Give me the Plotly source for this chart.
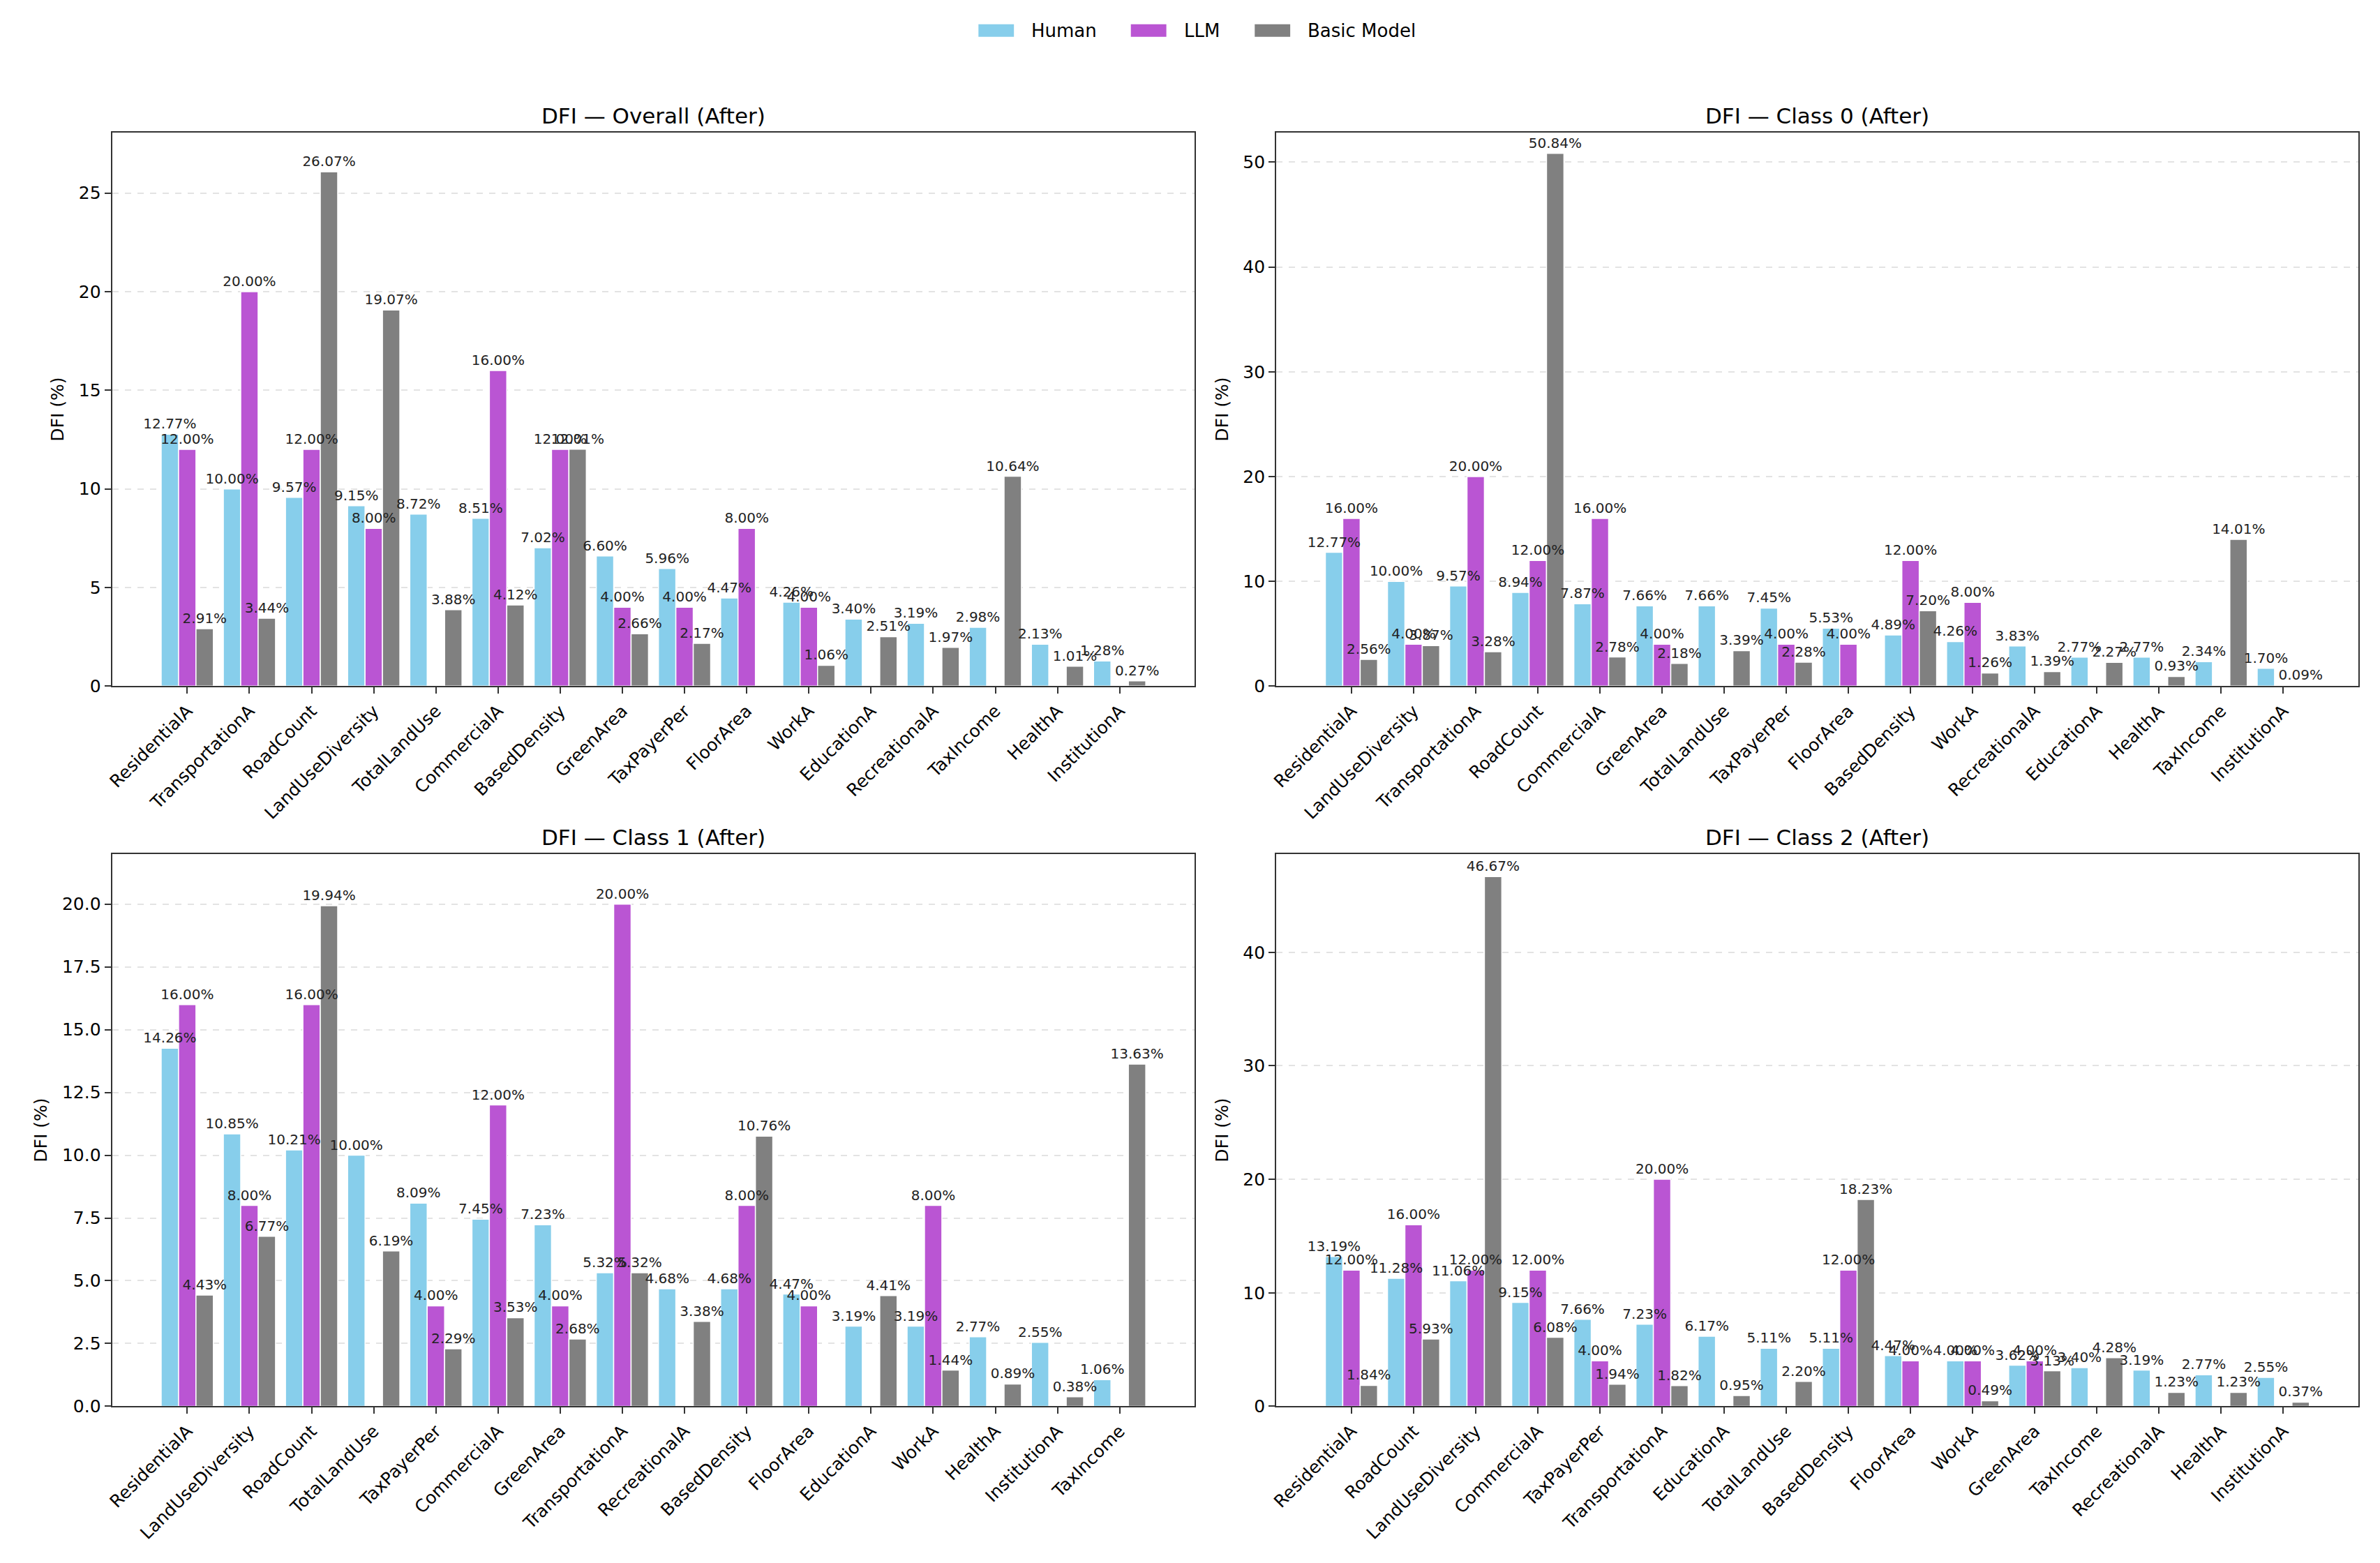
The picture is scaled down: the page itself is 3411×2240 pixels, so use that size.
import plotly.graph_objects as go

# ---------------- data ----------------
series_names = ["Human", "LLM", "Basic Model"]
series_colors = ["#87CEEB", "#BA55D3", "#808080"]

overall_cats = ["ResidentialA", "TransportationA", "RoadCount", "LandUseDiversity", "TotalLandUse",
                "CommercialA", "BasedDensity", "GreenArea", "TaxPayerPer", "FloorArea", "WorkA",
                "EducationA", "RecreationalA", "TaxIncome", "HealthA", "InstitutionA"]
overall_human = [12.77, 10.00, 9.57, 9.15, 8.72, 8.51, 7.02, 6.60, 5.96, 4.47, 4.26, 3.40, 3.19, 2.98, 2.13, 1.28]
overall_llm = [12.00, 20.00, 12.00, 8.00, 0, 16.00, 12.00, 4.00, 4.00, 8.00, 4.00, 0, 0, 0, 0, 0]
overall_basic = [2.91, 3.44, 26.07, 19.07, 3.88, 4.12, 12.01, 2.66, 2.17, 0, 1.06, 2.51, 1.97, 10.64, 1.01, 0.27]

class0_cats = ["ResidentialA", "LandUseDiversity", "TransportationA", "RoadCount", "CommercialA",
               "GreenArea", "TotalLandUse", "TaxPayerPer", "FloorArea", "BasedDensity", "WorkA",
               "RecreationalA", "EducationA", "HealthA", "TaxIncome", "InstitutionA"]
class0_human = [12.77, 10.00, 9.57, 8.94, 7.87, 7.66, 7.66, 7.45, 5.53, 4.89, 4.26, 3.83, 2.77, 2.77, 2.34, 1.70]
class0_llm = [16.00, 4.00, 20.00, 12.00, 16.00, 4.00, 0, 4.00, 4.00, 12.00, 8.00, 0, 0, 0, 0, 0]
class0_basic = [2.56, 3.87, 3.28, 50.84, 2.78, 2.18, 3.39, 2.28, 0, 7.20, 1.26, 1.39, 2.27, 0.93, 14.01, 0.09]

class1_cats = ["ResidentialA", "LandUseDiversity", "RoadCount", "TotalLandUse", "TaxPayerPer",
               "CommercialA", "GreenArea", "TransportationA", "RecreationalA", "BasedDensity",
               "FloorArea", "EducationA", "WorkA", "HealthA", "InstitutionA", "TaxIncome"]
class1_human = [14.26, 10.85, 10.21, 10.00, 8.09, 7.45, 7.23, 5.32, 4.68, 4.68, 4.47, 3.19, 3.19, 2.77, 2.55, 1.06]
class1_llm = [16.00, 8.00, 16.00, 0, 4.00, 12.00, 4.00, 20.00, 0, 8.00, 4.00, 0, 8.00, 0, 0, 0]
class1_basic = [4.43, 6.77, 19.94, 6.19, 2.29, 3.53, 2.68, 5.32, 3.38, 10.76, 0, 4.41, 1.44, 0.89, 0.38, 13.63]

class2_cats = ["ResidentialA", "RoadCount", "LandUseDiversity", "CommercialA", "TaxPayerPer",
               "TransportationA", "EducationA", "TotalLandUse", "BasedDensity", "FloorArea", "WorkA",
               "GreenArea", "TaxIncome", "RecreationalA", "HealthA", "InstitutionA"]
class2_human = [13.19, 11.28, 11.06, 9.15, 7.66, 7.23, 6.17, 5.11, 5.11, 4.47, 4.00, 3.62, 3.40, 3.19, 2.77, 2.55]
class2_llm = [12.00, 16.00, 12.00, 12.00, 4.00, 20.00, 0, 0, 12.00, 4.00, 4.00, 4.00, 0, 0, 0, 0]
class2_basic = [1.84, 5.93, 46.67, 6.08, 1.94, 1.82, 0.95, 2.20, 18.23, 0, 0.49, 3.13, 4.28, 1.23, 1.23, 0.37]

panels = [
    ("DFI — Overall (After)", overall_cats, [overall_human, overall_llm, overall_basic], 5, "d"),
    ("DFI — Class 0 (After)", class0_cats, [class0_human, class0_llm, class0_basic], 10, "d"),
    ("DFI — Class 1 (After)", class1_cats, [class1_human, class1_llm, class1_basic], 2.5, ".1f"),
    ("DFI — Class 2 (After)", class2_cats, [class2_human, class2_llm, class2_basic], 10, "d"),
]

# ---------------- layout ----------------
FONT = "DejaVu Sans"
W, H = 3411, 2240
dom_x = [[152 / W, 1708 / W], [1825 / W, 3380 / W]]
dom_y = [[1 - 990 / H, 1 - 191 / H], [1 - 2029 / H, 1 - 1232 / H]]

fig = go.Figure()
layout = dict(
    width=W, height=H,
    margin=dict(l=0, r=0, t=0, b=0),
    paper_bgcolor="white", plot_bgcolor="white",
    font=dict(family=FONT, size=25, color="black"),
    barmode="group", bargap=0.16, bargroupgap=0.0,
    showlegend=False,
    annotations=[], shapes=[],
)

for i, (title, cats, vals, dtick, fmt) in enumerate(panels):
    r, c = divmod(i, 2)
    xn = "x" if i == 0 else f"x{i + 1}"
    yn = "y" if i == 0 else f"y{i + 1}"
    xkey = "xaxis" if i == 0 else f"xaxis{i + 1}"
    ykey = "yaxis" if i == 0 else f"yaxis{i + 1}"
    # coloured bars
    for s, (name, col) in enumerate(zip(series_names, series_colors)):
        fig.add_trace(go.Bar(
            x=cats, y=vals[s], name=name, offsetgroup=str(s),
            marker=dict(color=col, line=dict(color="white", width=1.5)),
            xaxis=xn, yaxis=yn,
        ))
    # value labels drawn on top of every bar
    for s, name in enumerate(series_names):
        v = vals[s]
        fig.add_trace(go.Bar(
            x=cats, y=v, name=name + " labels", offsetgroup=str(s),
            marker=dict(color="rgba(0,0,0,0)", line=dict(width=0)),
            text=[f"{t:.2f}%" if t > 0 else "" for t in v],
            textposition="outside", constraintext="none", cliponaxis=False,
            textfont=dict(size=20, color="#222", family=FONT),
            hoverinfo="skip", xaxis=xn, yaxis=yn,
        ))
    ymax = max(max(vv) for vv in vals) + 2
    n = len(cats)
    layout[xkey] = dict(
        domain=dom_x[c], anchor=yn, type="category",
        range=[-1.21, n - 1 + 1.21],
        tickangle=-45, tickfont=dict(size=25, family=FONT, color="black"),
        ticks="outside", ticklen=9, tickwidth=2, tickcolor="#333",
        showline=True, linecolor="#333", linewidth=2, mirror=True,
        showgrid=False, zeroline=False,
    )
    layout[ykey] = dict(
        domain=dom_y[r], anchor=xn,
        range=[0, ymax], dtick=dtick, tick0=0, tickformat=fmt,
        tickfont=dict(size=25, family=FONT, color="black"),
        ticks="outside", ticklen=9, tickwidth=2, tickcolor="#333",
        showline=True, linecolor="#333", linewidth=2, mirror=True,
        showgrid=True, gridcolor="#e3e3e3", gridwidth=1.5, griddash="dash",
        zeroline=False,
        title=dict(text="DFI (%)", font=dict(size=25, family=FONT), standoff=14),
    )
    layout["annotations"].append(dict(
        text=title, xref="paper", yref="paper",
        x=(dom_x[c][0] + dom_x[c][1]) / 2, y=dom_y[r][1],
        xanchor="center", yanchor="bottom", yshift=4, showarrow=False,
        font=dict(size=31, family=FONT, color="black"),
    ))

# ---------------- figure legend (top centre) ----------------
legend_swatch_left = [1397, 1616, 1794]   # pixel positions of legend entries
swatch_w, swatch_h, legend_cy = 51, 18, 44
for name, col, x0 in zip(series_names, series_colors, legend_swatch_left):
    layout["shapes"].append(dict(
        type="rect", xref="paper", yref="paper",
        x0=x0 / W, x1=(x0 + swatch_w) / W,
        y0=1 - (legend_cy + swatch_h / 2) / H, y1=1 - (legend_cy - swatch_h / 2) / H,
        fillcolor=col, line=dict(width=0),
    ))
    layout["annotations"].append(dict(
        text=name, xref="paper", yref="paper",
        x=(x0 + swatch_w + 23) / W, y=1 - legend_cy / H,
        xanchor="left", yanchor="middle", showarrow=False,
        font=dict(size=26, family=FONT, color="black"),
    ))

fig.update_layout(**layout)
fig.write_html("out.html")
